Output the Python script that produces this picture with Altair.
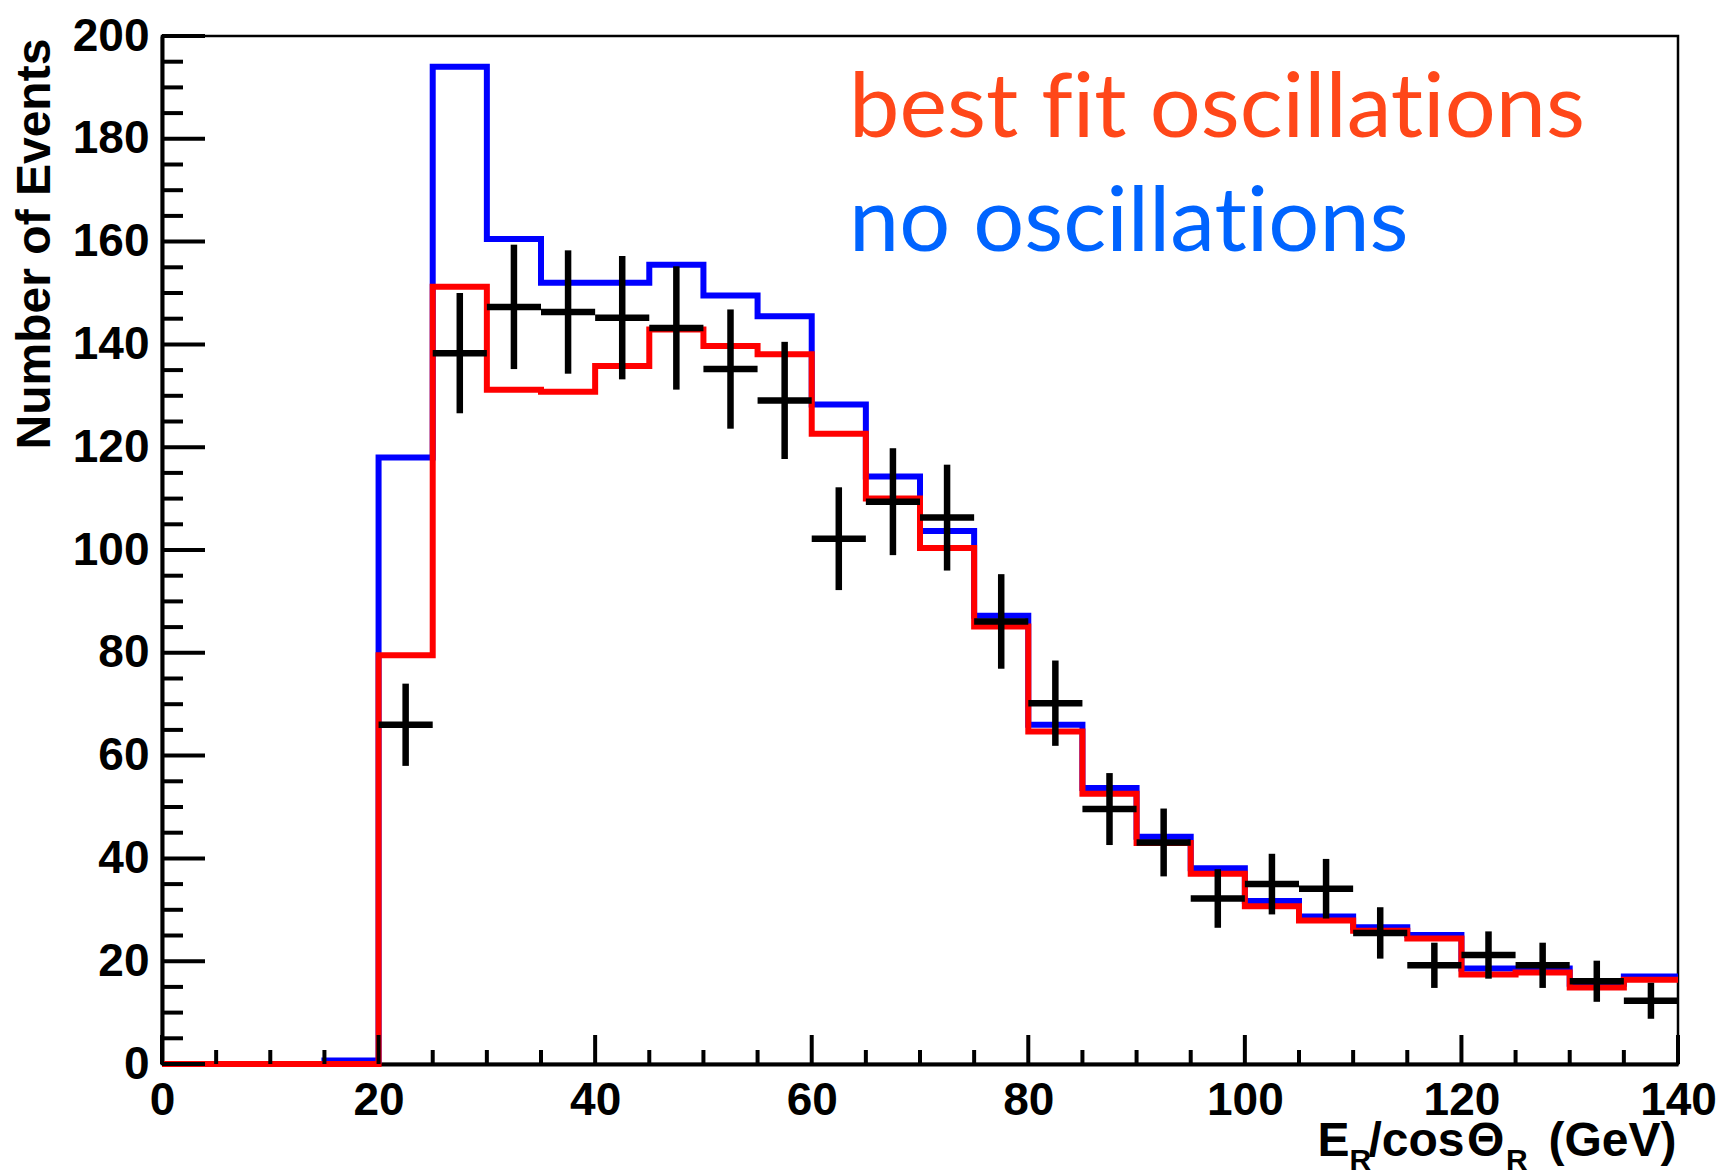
import altair as alt
import pandas as pd

# ---------------- data ----------------
bin_lo = [0, 5, 10, 15, 20, 25, 30, 35, 40, 45, 50, 55, 60, 65, 70,
          75, 80, 85, 90, 95, 100, 105, 110, 115, 120, 125, 130, 135]
x_end = 140

no_osc = [0, 0, 0, 0.7, 118, 194, 160.5, 152, 152, 155.5, 149.5, 145.5, 128.3, 114.3,
          103.7, 87.2, 66, 53.7, 44.2, 38.1, 31.7, 28.7, 26.6, 25.1, 18.6, 18.6, 15.6, 17.0]
best_fit = [0, 0, 0, 0, 79.5, 151.2, 131.2, 130.8, 135.8, 142.9, 139.7, 138.1, 122.6, 110.0,
            100.4, 85.1, 64.7, 52.6, 43.0, 37.0, 30.7, 27.9, 25.9, 24.4, 17.4, 17.8, 14.9, 16.4]

data_center = [22.5, 27.5, 32.5, 37.5, 42.5, 47.5, 52.5, 57.5, 62.5, 67.5, 72.5, 77.5,
               82.5, 87.5, 92.5, 97.5, 102.5, 107.5, 112.5, 117.5, 122.5, 127.5, 132.5, 137.5]
data_count = [66, 138.3, 147.3, 146.3, 145.2, 143.2, 135.2, 129.1, 102.2, 109.4, 106.3, 86.1,
              70.2, 49.6, 43.1, 32.2, 35.0, 34.1, 25.5, 19.2, 21.2, 19.2, 16.1, 12.3]
data_err = [8.0, 11.7, 12.1, 12.0, 12.0, 12.0, 11.6, 11.4, 10.0, 10.4, 10.3, 9.2,
            8.3, 7.0, 6.6, 5.7, 5.9, 5.8, 5.0, 4.4, 4.6, 4.4, 4.0, 3.5]
half_bin = 2.5

x_major = [0, 20, 40, 60, 80, 100, 120, 140]
x_minor = [5, 10, 15, 25, 30, 35, 45, 50, 55, 65, 70, 75, 85, 90, 95,
           105, 110, 115, 125, 130, 135]
y_major = [0, 20, 40, 60, 80, 100, 120, 140, 160, 180, 200]
y_minor = [5, 10, 15, 25, 30, 35, 45, 50, 55, 65, 70, 75, 85, 90, 95,
           105, 110, 115, 125, 130, 135, 145, 150, 155, 165, 170, 175,
           185, 190, 195]

# zero-width non-joiners keep the font from forming fi / ti ligatures
legend_text = ["best f\u200cit oscillat\u200cions", "no oscillat\u200cions"]
y_title = "Number of Events"

# ---------------- tables ----------------
hist_df = pd.DataFrame({
    "x": bin_lo + [x_end],
    "no": no_osc + [no_osc[-1]],
    "fit": best_fit + [best_fit[-1]],
})
pts = pd.DataFrame({"c": data_center, "n": data_count, "e": data_err})
pts["lo"] = pts["n"] - pts["e"]
pts["hi"] = pts["n"] + pts["e"]
pts["l"] = pts["c"] - half_bin
pts["r"] = pts["c"] + half_bin

W, H = 1516, 1028
FONT = "Liberation Sans"

xs = alt.Scale(domain=[0, 140], nice=False, zero=False)
ys = alt.Scale(domain=[0, 200], nice=False)

x_axis = alt.Axis(values=x_major, title=None, grid=False, ticks=False, tickSize=0,
                  labelFont=FONT, labelFontSize=46, labelFontWeight="bold",
                  labelColor="black", labelPadding=14, labelFlush=False,
                  labelOverlap=False, labelAngle=0, domainColor="black", domainWidth=4)
y_axis = alt.Axis(values=y_major, title=None, grid=False, ticks=False, tickSize=0,
                  labelFont=FONT, labelFontSize=46, labelFontWeight="bold",
                  labelColor="black", labelPadding=13, labelOverlap=False,
                  domainColor="black", domainWidth=4)


def X(field):
    return alt.X(field, scale=xs, axis=x_axis)


def Y(field):
    return alt.Y(field, scale=ys, axis=y_axis)


blue = alt.Chart(hist_df).mark_line(
    interpolate="step-after", color="#0000FF", strokeWidth=6, strokeJoin="miter"
).encode(x=X("x:Q"), y=Y("no:Q"))

red = alt.Chart(hist_df).mark_line(
    interpolate="step-after", color="#FF0000", strokeWidth=6, strokeJoin="miter"
).encode(x=X("x:Q"), y=Y("fit:Q"))

vbar = alt.Chart(pts).mark_rule(color="black", strokeWidth=6.5).encode(
    x=X("c:Q"), y=Y("lo:Q"), y2="hi:Q")
hbar = alt.Chart(pts).mark_rule(color="black", strokeWidth=6.5).encode(
    x=X("l:Q"), x2="r:Q", y=Y("n:Q"))

# inward ticks (ROOT style)
ymaj = alt.Chart(pd.DataFrame({"v": y_major})).mark_rule(color="black", strokeWidth=4).encode(
    y=Y("v:Q"), x=alt.value(0), x2=alt.value(43))
ymin = alt.Chart(pd.DataFrame({"v": y_minor})).mark_rule(color="black", strokeWidth=4).encode(
    y=Y("v:Q"), x=alt.value(0), x2=alt.value(21))
xmaj = alt.Chart(pd.DataFrame({"v": x_major})).mark_rule(color="black", strokeWidth=4).encode(
    x=X("v:Q"), y=alt.value(H), y2=alt.value(H - 29))
xmin = alt.Chart(pd.DataFrame({"v": x_minor})).mark_rule(color="black", strokeWidth=4).encode(
    x=X("v:Q"), y=alt.value(H), y2=alt.value(H - 14))

# legend-like annotations
leg_red = alt.Chart(pd.DataFrame({"t": [legend_text[0]]})).mark_text(
    font="Lato", fontSize=90, color="#FF4719", align="left", baseline="alphabetic"
).encode(x=alt.value(687), y=alt.value(101), text="t:N")
leg_blue = alt.Chart(pd.DataFrame({"t": [legend_text[1]]})).mark_text(
    font="Lato", fontSize=90, color="#0064FF", align="left", baseline="alphabetic"
).encode(x=alt.value(687), y=alt.value(215), text="t:N")

# y title
ytitle = alt.Chart(pd.DataFrame({"t": [y_title]})).mark_text(
    font=FONT, fontSize=48, fontWeight="bold", color="black", angle=270,
    align="center", baseline="alphabetic"
).encode(x=alt.value(-112), y=alt.value(208), text="t:N")

# x title: E_R/cosΘ_R (GeV) built from pieces
pieces = [
    ("E", 1155.5, 1120, 48, "left"),
    ("R", 1187.5, 1134, 30, "left"),
    ("/cos", 1206.5, 1120, 48, "left"),
    ("\u0398", 1305.0, 1120, 48, "left"),
    ("R", 1344.0, 1134, 30, "left"),
    ("(GeV)", 1514.5, 1120, 48, "right"),
]
xtitle_layers = []
for txt, px, py, fs, al in pieces:
    xtitle_layers.append(
        alt.Chart(pd.DataFrame({"t": [txt]})).mark_text(
            font=FONT, fontSize=fs, fontWeight="bold", color="black",
            align=al, baseline="alphabetic"
        ).encode(x=alt.value(px), y=alt.value(py), text="t:N")
    )

chart = alt.layer(
    blue, red, vbar, hbar, ymaj, ymin, xmaj, xmin, leg_red, leg_blue, ytitle, *xtitle_layers
).properties(
    width=W, height=H,
    autosize=alt.AutoSizeParams(type="none"),
    padding={"left": 162, "top": 36, "right": 45, "bottom": 111},
    background="white",
).configure_view(stroke="black", strokeWidth=2.5)

chart.save("out.html", embed_options={"renderer": "svg", "actions": False})
